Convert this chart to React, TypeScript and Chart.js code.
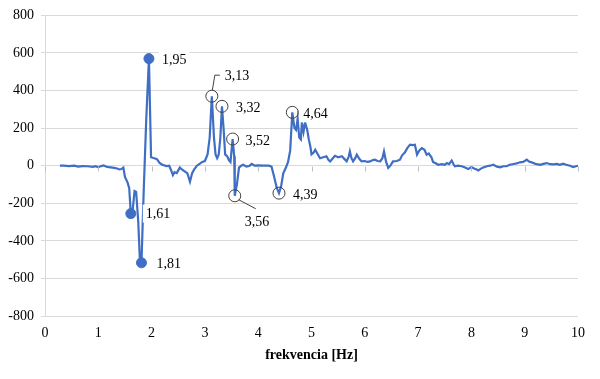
import React, { useEffect, useRef } from "react";
import { Chart, registerables } from "chart.js";
Chart.register(...registerables);

// Data
const freq = [0.28,0.35,0.45,0.55,0.62,0.7,0.8,0.9,0.95,1.0,1.05,1.1,1.15,1.2,1.3,1.35,1.4,1.43,1.47,1.5,1.55,1.58,1.61,1.64,1.68,1.71,1.75,1.78,1.81,1.85,1.9,1.95,1.99,2.05,2.1,2.15,2.2,2.28,2.33,2.36,2.4,2.43,2.47,2.5,2.53,2.57,2.62,2.67,2.72,2.76,2.8,2.85,2.9,2.95,3.0,3.05,3.09,3.13,3.17,3.2,3.23,3.26,3.29,3.32,3.35,3.38,3.42,3.45,3.48,3.52,3.55,3.56,3.6,3.64,3.68,3.72,3.78,3.84,3.88,3.93,4.0,4.1,4.2,4.25,4.3,4.35,4.39,4.43,4.47,4.52,4.56,4.6,4.64,4.68,4.71,4.74,4.77,4.8,4.82,4.85,4.88,4.92,4.95,4.98,5.0,5.04,5.07,5.12,5.16,5.22,5.28,5.32,5.35,5.4,5.44,5.5,5.57,5.62,5.66,5.7,5.72,5.75,5.78,5.82,5.85,5.9,5.94,6.0,6.05,6.1,6.15,6.19,6.24,6.29,6.33,6.36,6.4,6.44,6.48,6.53,6.6,6.66,6.7,6.75,6.8,6.85,6.9,6.94,6.98,7.02,7.07,7.12,7.16,7.2,7.25,7.28,7.32,7.38,7.45,7.5,7.54,7.58,7.63,7.66,7.69,7.75,7.82,7.88,7.94,8.0,8.05,8.1,8.13,8.2,8.29,8.35,8.41,8.48,8.54,8.6,8.66,8.72,8.79,8.85,8.91,8.97,9.04,9.08,9.13,9.2,9.29,9.35,9.41,9.48,9.54,9.6,9.66,9.72,9.78,9.85,9.91,9.96,10.0];
const amp = [0,0,-2,0,-5,-2,-3,-6,-3,-8,-2,2,-5,-8,-12,-15,-20,-18,-10,-60,-90,-120,-255,-250,-135,-140,-300,-500,-517,-150,250,570,45,40,35,15,5,-2,0,-20,-50,-35,-40,-25,-10,-20,-30,-40,-85,-40,-20,0,10,20,25,60,150,370,150,60,40,60,150,316,200,60,50,30,20,142,50,-160,-100,-10,0,5,-5,0,10,0,2,0,0,-5,-60,-120,-146,-110,-40,-10,20,80,284,200,190,250,150,140,230,180,230,190,140,100,60,70,85,60,40,45,50,30,23,40,53,45,50,35,23,50,76,40,23,40,59,35,23,25,20,23,30,32,25,23,40,76,20,-12,0,23,25,32,55,70,95,112,110,112,59,80,94,85,59,65,45,20,14,5,8,5,14,8,27,10,-3,0,-3,-10,-18,-7,-15,-20,-25,-12,-3,0,5,-5,-9,-3,-3,5,9,12,18,20,32,22,18,10,5,10,14,8,7,10,5,11,5,0,-7,-3,0];

const filledPeakX = [1.61, 1.81, 1.95];
const filledPeakY = [-255, -517, 570];
const openPeakX = [3.13, 3.32, 3.52, 3.56, 4.39, 4.64];
const openPeakY = [370, 316, 142, -160, -146, 284];

const xTicks = [0,1,2,3,4,5,6,7,8,9,10];
const yTicks = [-800,-600,-400,-200,0,200,400,600,800];
const xTitle = "frekvencia [Hz]";

const fmt = (v: number) => v.toFixed(2).replace(".", ",");

const BLUE = "#3F6EC4";
const GRID = "#d9d9d9";
const SERIF = "'Liberation Serif', 'Times New Roman', serif";

// label placement (style only): offset of text left/center from point
const filledOffsets = [[15, 0], [15, 0], [13, 1]];
const openOffsets = [[13, -21], [14, 1], [13, 1], [10, 26], [14, 1], [11, 1]];

const labelPlugin = {
  id: "peakLabels",
  afterDatasetsDraw(chart: any) {
    const { ctx, scales } = chart;
    const xs = scales.x, ys = scales.y;
    ctx.save();
    ctx.strokeStyle = "#bfbfbf";
    ctx.lineWidth = 1;
    const y0 = Math.round(ys.getPixelForValue(0)) + 0.5;
    xTicks.forEach((t) => {
      const px = Math.round(xs.getPixelForValue(t)) + 0.5;
      ctx.beginPath();
      ctx.moveTo(px, y0);
      ctx.lineTo(px, y0 + 5);
      ctx.stroke();
    });
    ctx.font = `14px ${SERIF}`;
    ctx.textBaseline = "middle";
    const drawLabel = (text: string, x: number, y: number) => {
      const w = ctx.measureText(text).width;
      ctx.fillStyle = "#ffffff";
      ctx.fillRect(x - 3, y - 9, w + 6, 18);
      ctx.fillStyle = "#000000";
      ctx.fillText(text, x, y + 1);
    };
    ctx.strokeStyle = "#404040";
    ctx.lineWidth = 1;
    {
      const px = xs.getPixelForValue(openPeakX[0]);
      const py = ys.getPixelForValue(openPeakY[0]);
      ctx.beginPath();
      ctx.moveTo(px + 0.5, py - 6);
      ctx.lineTo(px + 3, py - 21);
      ctx.lineTo(px + 8, py - 21);
      ctx.stroke();
    }
    {
      const px = xs.getPixelForValue(openPeakX[3]);
      const py = ys.getPixelForValue(openPeakY[3]);
      ctx.beginPath();
      ctx.moveTo(px + 4, py + 4);
      ctx.lineTo(px + 21, py + 13);
      ctx.stroke();
    }
    filledPeakX.forEach((xv, i) => {
      const px = xs.getPixelForValue(xv);
      const py = ys.getPixelForValue(filledPeakY[i]);
      drawLabel(fmt(xv), px + filledOffsets[i][0], py + filledOffsets[i][1]);
    });
    openPeakX.forEach((xv, i) => {
      const px = xs.getPixelForValue(xv);
      const py = ys.getPixelForValue(openPeakY[i]);
      drawLabel(fmt(xv), px + openOffsets[i][0], py + openOffsets[i][1]);
    });
    ctx.restore();
  },
};

export default function App() {
  const ref = useRef<HTMLCanvasElement>(null);
  useEffect(() => {
    document.body.style.margin = "0";
    const lineData = freq.map((f, i) => ({ x: f, y: amp[i] }));
    const chart = new Chart(ref.current as HTMLCanvasElement, {
      type: "scatter",
      data: {
        datasets: [
          {
            data: filledPeakX.map((x, i) => ({ x, y: filledPeakY[i] })),
            showLine: false,
            pointRadius: 5,
            pointBackgroundColor: BLUE,
            pointBorderColor: BLUE,
            pointBorderWidth: 1,
          },
          {
            data: openPeakX.map((x, i) => ({ x, y: openPeakY[i] })),
            showLine: false,
            pointRadius: 6,
            pointBackgroundColor: "rgba(0,0,0,0)",
            pointBorderColor: "#404040",
            pointBorderWidth: 1,
          },
          {
            data: lineData,
            showLine: true,
            borderColor: BLUE,
            borderWidth: 2.2,
            pointRadius: 0,
            tension: 0,
          },
        ],
      },
      options: {
        responsive: false,
        animation: false,
        layout: { padding: { left: 0, right: 22, top: 15, bottom: 15 } },
        plugins: { legend: { display: false }, tooltip: { enabled: false } },
        scales: {
          x: {
            type: "linear",
            min: 0,
            max: 10,
            afterBuildTicks: (s: any) => { s.ticks = xTicks.map((v) => ({ value: v })); },
            afterFit: (s: any) => { s.height = 48; },
            grid: { display: false, drawTicks: false },
            border: { display: false },
            ticks: { color: "#000", font: { family: SERIF, size: 14 }, padding: 9, maxRotation: 0 },
            title: { display: true, text: xTitle, color: "#000", font: { family: SERIF, size: 14, weight: "bold" }, padding: { top: 0, bottom: 0 } },
          },
          y: {
            min: -800,
            max: 800,
            afterBuildTicks: (s: any) => { s.ticks = yTicks.map((v) => ({ value: v })); },
            afterFit: (s: any) => { s.width = 45; },
            grid: { color: GRID, tickLength: 4, lineWidth: 1 },
            border: { color: GRID },
            ticks: { color: "#000", font: { family: SERIF, size: 14 }, padding: 7 },
          },
        },
      },
      plugins: [labelPlugin],
    } as any);
    return () => chart.destroy();
  }, []);
  return (
    <div style={{ width: 600, height: 379, background: "#fff" }}>
      <canvas ref={ref} width={600} height={379} />
    </div>
  );
}
